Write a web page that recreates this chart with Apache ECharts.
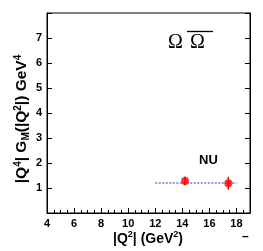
<!DOCTYPE html>
<html><head><meta charset="utf-8">
<script src="https://cdn.jsdelivr.net/npm/echarts@6/dist/echarts.min.js"></script>
<style>html,body{margin:0;padding:0;background:#fff}#c{width:263px;height:251px}</style>
</head><body><div id="c"></div>
<script>
var xTicks = [4, 6, 8, 10, 12, 14, 16, 18];
var yTicks = [1, 2, 3, 4, 5, 6, 7];
var pointsX = [14.2, 17.4];
var pointsY = [1.28, 1.19];
var pointsErr = [0.18, 0.26];
var fitX = [12, 18];
var fitY = [1.2, 1.2];

var chart = echarts.init(document.getElementById('c'), null, {renderer: 'canvas'});
var F = 'Liberation Sans, Arial, sans-serif';
var pts = pointsX.map(function (x, i) { return [x, pointsY[i], pointsErr[i]]; });
var fit = fitX.map(function (x, i) { return [x, fitY[i]]; });

chart.setOption({
  animation: false,
  grid: {left: 47, right: 13, top: 13, bottom: 38, show: true, borderColor: '#000', borderWidth: 1},
  xAxis: [{
    type: 'value', min: 4, max: 19, interval: 2,
    axisLine: {lineStyle: {color: '#000'}},
    axisTick: {inside: true, length: 5, lineStyle: {color: '#000'}},
    minorTick: {show: true, splitNumber: 4, length: 3, lineStyle: {color: '#000'}},
    splitLine: {show: false},
    axisLabel: {showMaxLabel: false, color: '#000', fontFamily: F, fontWeight: 'bold', fontSize: 11, margin: 5,
      formatter: function (v) { return xTicks.indexOf(v) >= 0 ? String(v) : ''; }}
  }],
  yAxis: [{
    type: 'value', min: 0, max: 8, interval: 1,
    axisLine: {show: true, lineStyle: {color: '#000'}},
    axisTick: {inside: true, length: 5, lineStyle: {color: '#000'}},
    splitLine: {show: false},
    axisLabel: {color: '#000', fontFamily: F, fontWeight: 'bold', fontSize: 11, margin: 5,
      formatter: function (v) { return yTicks.indexOf(v) >= 0 ? String(v) : ''; }}
  }, {
    type: 'value', min: 0, max: 8, interval: 1, position: 'right',
    axisLine: {show: true, lineStyle: {color: '#000'}},
    axisTick: {inside: true, length: 5, lineStyle: {color: '#000'}},
    splitLine: {show: false},
    axisLabel: {show: false}
  }],
  series: [{
    type: 'line', data: fit, showSymbol: false, symbol: 'none',
    lineStyle: {color: '#2233ff', width: 1, type: [2, 1.5]}, z: 2
  }, {
    type: 'custom', data: pts, z: 3,
    renderItem: function (params, api) {
      var x = api.value(0), y = api.value(1), e = api.value(2);
      var p1 = api.coord([x, y - e]), p2 = api.coord([x, y + e]);
      return {type: 'line', shape: {x1: p1[0], y1: p1[1], x2: p2[0], y2: p2[1]},
        style: {stroke: '#ff0000', lineWidth: 1.5}};
    }
  }, {
    type: 'scatter', data: pts.map(function (p) { return [p[0], p[1]]; }),
    symbol: 'circle', symbolSize: 8, itemStyle: {color: '#ff0000'}, z: 4
  }],
  graphic: [{
    type: 'text', left: 199, top: 154,
    style: {text: 'NU', fill: '#000', font: 'bold 13px ' + F}
  }, {
    type: 'text', left: 168, top: 33,
    style: {text: 'Ω', fill: '#000', font: '20px Liberation Serif, serif'}
  }, {
    type: 'text', left: 190, top: 33,
    style: {text: 'Ω', fill: '#000', font: '20px Liberation Serif, serif'}
  }, {
    type: 'line', shape: {x1: 187, y1: 31.5, x2: 213, y2: 31.5}, style: {stroke: '#000', lineWidth: 1.3}
  }, {
    type: 'text', left: 242, top: 231,
    style: {text: '–', fill: '#000', font: 'bold 12px ' + F}
  }, {
    type: 'text', x: 148, y: 239,
    style: {
      text: '{n||Q}{s|2}{n|| (GeV}{s|2}{n|)}', align: 'center', verticalAlign: 'middle',
      rich: {n: {font: 'bold 14px ' + F, fill: '#000'}, s: {font: 'bold 9px ' + F, fill: '#000', padding: [0, 0, 8, 0]}}
    }
  }, {
    type: 'text', x: 22, y: 119, rotation: Math.PI / 2,
    style: {
      text: '{n||Q}{s|4}{n|| G}{b|M}{n|(|Q}{s|2}{n||) GeV}{s|4}', align: 'center', verticalAlign: 'middle',
      rich: {n: {font: 'bold 15.5px ' + F, fill: '#000'}, s: {font: 'bold 10px ' + F, fill: '#000', padding: [0, 0, 8, 0]},
             b: {font: 'bold 10px ' + F, fill: '#000', padding: [9, 0, 0, 0]}}
    }
  }]
});
</script></body></html>
